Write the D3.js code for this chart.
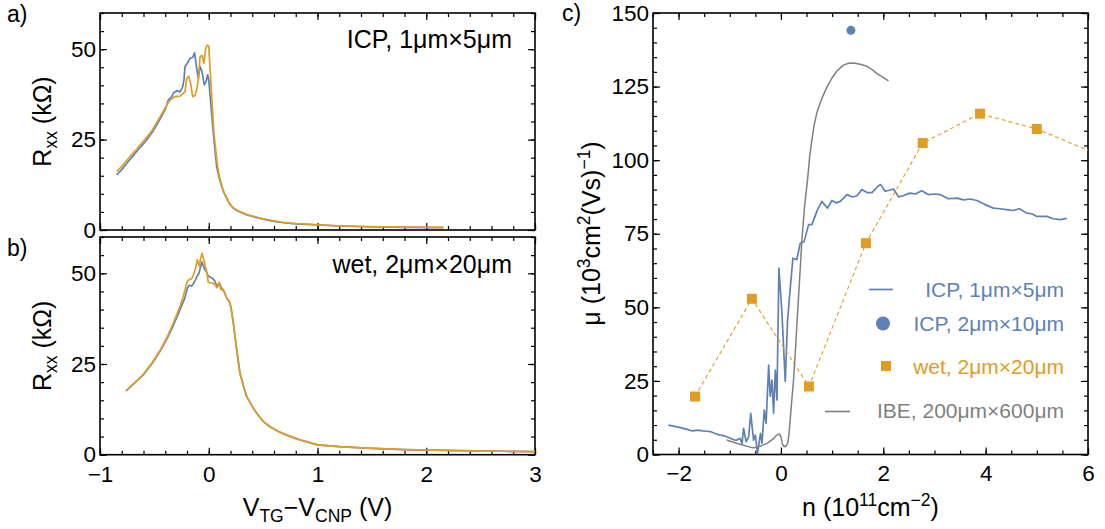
<!DOCTYPE html>
<html><head><meta charset="utf-8">
<script src="https://cdn.jsdelivr.net/npm/d3@7"></script>
<style>body{margin:0;background:#fff}svg{display:block}text{font-family:"Liberation Sans",Arial,sans-serif}</style>
</head><body>
<svg id="c" width="1105" height="529"></svg>
<script>
// ---------- DATA ----------
// Panel a: ICP, 1µm×5µm  (V_TG - V_CNP [V], Rxx [kΩ])
const aBlue = [[-0.847,15.2],[-0.8,16.7],[-0.755,18.4],[-0.71,20.0],[-0.663,21.7],[-0.62,23.2],[-0.571,24.9],[-0.52,27.0],[-0.479,29.0],[-0.44,31.1],[-0.402,33.2],[-0.372,35.9],[-0.341,36.9],[-0.326,37.8],[-0.295,38.5],[-0.264,38.2],[-0.24,39.6],[-0.228,41.5],[-0.218,45.2],[-0.197,46.1],[-0.172,47.5],[-0.148,47.7],[-0.13,49.0],[-0.111,44.7],[-0.096,41.9],[-0.08,45.2],[-0.062,43.8],[-0.041,40.1],[-0.025,41.0],[-0.01,42.9],[0.0,41.5],[0.011,37.8],[0.042,26.7],[0.073,17.5],[0.095,14.5],[0.119,12.0],[0.14,10.3],[0.165,8.8],[0.19,7.3],[0.226,6.0],[0.27,5.2],[0.318,4.6],[0.36,4.1],[0.41,3.7],[0.47,3.2],[0.533,2.8],[0.6,2.4],[0.686,2.0],[0.8,1.7],[0.993,1.4],[1.2,1.1],[1.45,0.9],[1.8,0.75],[2.157,0.65]];
const aOrange = [[-0.847,16.1],[-0.8,17.6],[-0.755,19.2],[-0.71,20.8],[-0.663,22.3],[-0.62,23.9],[-0.571,25.6],[-0.52,27.6],[-0.479,29.7],[-0.44,31.7],[-0.402,33.7],[-0.356,35.9],[-0.31,36.9],[-0.264,37.0],[-0.218,38.2],[-0.203,41.9],[-0.185,42.5],[-0.166,40.5],[-0.148,36.9],[-0.127,37.2],[-0.111,38.7],[-0.096,41.5],[-0.08,47.9],[-0.062,48.3],[-0.044,46.1],[-0.028,50.2],[-0.013,51.1],[0.0,50.8],[0.011,45.2],[0.027,36.9],[0.048,26.7],[0.08,17.8],[0.1,14.5],[0.122,12.0],[0.14,10.4],[0.165,8.9],[0.19,7.4],[0.226,6.1],[0.27,5.3],[0.318,4.7],[0.36,4.2],[0.41,3.8],[0.47,3.3],[0.533,2.9],[0.6,2.5],[0.686,2.1],[0.8,1.8],[0.993,1.45],[1.2,1.15],[1.45,0.95],[1.8,0.8],[2.157,0.7]];
// Panel b: wet, 2µm×20µm
const bBlue = [[-0.761,17.6],[-0.69,19.5],[-0.602,22.0],[-0.52,25.2],[-0.448,28.5],[-0.38,32.2],[-0.326,35.6],[-0.28,38.8],[-0.25,41.0],[-0.22,43.2],[-0.197,45.8],[-0.18,46.7],[-0.157,46.5],[-0.14,47.2],[-0.12,48.3],[-0.105,49.3],[-0.09,50.0],[-0.075,51.8],[-0.062,53.1],[-0.05,52.0],[-0.035,51.0],[-0.02,50.3],[-0.004,49.2],[0.015,48.9],[0.035,48.6],[0.057,47.8],[0.075,46.5],[0.097,47.3],[0.12,45.8],[0.14,45.0],[0.165,43.2],[0.189,42.3],[0.205,40.5],[0.226,36.3],[0.257,28.9],[0.287,22.5],[0.32,18.8],[0.349,16.0],[0.4,13.3],[0.441,11.4],[0.5,9.2],[0.563,7.7],[0.64,6.4],[0.717,5.4],[0.78,4.7],[0.839,4.1],[0.92,3.4],[1.0,2.7],[1.2,2.2],[1.45,1.8],[1.8,1.4],[2.31,1.1],[2.7,0.95],[3.0,0.85]];
const bOrange = [[-0.761,17.6],[-0.69,19.6],[-0.602,22.1],[-0.52,25.4],[-0.448,28.7],[-0.38,32.6],[-0.326,36.3],[-0.264,40.9],[-0.234,43.7],[-0.197,47.8],[-0.175,48.4],[-0.157,48.5],[-0.136,49.9],[-0.12,51.5],[-0.105,53.8],[-0.095,52.6],[-0.087,52.0],[-0.075,54.0],[-0.062,55.5],[-0.05,54.2],[-0.035,52.4],[-0.02,50.5],[-0.004,47.5],[0.015,47.4],[0.035,47.3],[0.057,46.9],[0.075,46.0],[0.085,46.4],[0.097,47.5],[0.11,45.5],[0.13,45.7],[0.15,44.5],[0.165,43.2],[0.189,42.3],[0.205,40.5],[0.226,36.3],[0.257,28.9],[0.287,22.5],[0.32,18.8],[0.349,16.0],[0.4,13.3],[0.441,11.4],[0.5,9.2],[0.563,7.7],[0.64,6.4],[0.717,5.4],[0.78,4.7],[0.839,4.1],[0.92,3.4],[1.0,2.7],[1.2,2.2],[1.45,1.8],[1.8,1.4],[2.31,1.1],[2.7,0.95],[3.0,0.85]];
// Panel c: mobility vs density  (n [1e11 cm^-2], µ [1e3 cm²/Vs])
const cICP1x5 = [[-2.2,10.0],[-2.0,9.3],[-1.85,8.6],[-1.73,8.0],[-1.62,8.3],[-1.53,8.0],[-1.45,7.9],[-1.38,7.8],[-1.3,7.2],[-1.19,6.6],[-1.1,6.3],[-0.99,5.5],[-0.92,5.0],[-0.86,4.9],[-0.8,5.5],[-0.76,3.8],[-0.73,8.9],[-0.68,4.4],[-0.63,6.0],[-0.59,14.0],[-0.535,4.9],[-0.5,6.6],[-0.457,0.4],[-0.4,7.2],[-0.37,3.8],[-0.326,15.1],[-0.29,10.6],[-0.24,30.4],[-0.21,19.7],[-0.176,25.3],[-0.144,14.0],[-0.11,28.7],[-0.078,18.5],[-0.04,63.3],[0.02,48.0],[0.084,24.8],[0.13,45.7],[0.17,54.2],[0.234,66.7],[0.31,66.2],[0.377,71.8],[0.455,72.4],[0.54,78.1],[0.605,78.1],[0.715,83.2],[0.80,86.0],[0.91,83.7],[0.995,86.3],[1.08,85.5],[1.16,86.0],[1.29,88.3],[1.4,87.5],[1.485,87.9],[1.58,90.0],[1.68,89.0],[1.78,89.0],[1.906,91.3],[1.95,91.7],[2.03,89.5],[2.10,89.7],[2.2,90.2],[2.30,87.5],[2.4,88.0],[2.525,88.8],[2.63,88.5],[2.75,89.6],[2.88,88.3],[3.0,88.5],[3.11,88.3],[3.27,86.9],[3.44,87.1],[3.57,86.5],[3.70,86.8],[3.83,86.3],[3.99,84.9],[4.15,83.7],[4.28,83.5],[4.41,83.2],[4.54,82.9],[4.66,83.5],[4.80,82.0],[4.9,81.8],[5.0,80.9],[5.195,80.9],[5.32,80.1],[5.455,79.8],[5.585,80.2]];
const cICP2x10 = [[1.367,144.1]];
const cWetN  = [-1.68,-0.567,0.547,1.66,2.77,3.89,5.0,6.12];
const cWetMu = [19.7,52.9,23.1,71.8,105.8,115.8,110.6,102.5];
const cIBE = [[-1.06,4.9],[-0.9,4.0],[-0.75,3.2],[-0.6,2.5],[-0.535,2.3],[-0.45,2.5],[-0.35,3.2],[-0.27,3.8],[-0.15,5.3],[-0.08,6.6],[-0.03,7.0],[0.0,6.0],[0.03,3.5],[0.065,2.65],[0.1,2.9],[0.13,3.8],[0.155,6.5],[0.18,11.7],[0.21,18],[0.246,25.3],[0.285,36],[0.325,48],[0.37,61],[0.41,73],[0.46,84],[0.52,93.4],[0.56,101],[0.605,107],[0.65,112],[0.70,116],[0.8,121],[0.9,124.9],[1.0,128],[1.09,130.2],[1.22,132.3],[1.32,132.9],[1.42,133],[1.55,132.6],[1.68,131.9],[1.78,130.8],[1.875,129.4],[1.99,128.2],[2.10,126.9]];
const legendLabels = ["ICP, 1μm×5μm","ICP, 2μm×10μm","wet, 2μm×20μm","IBE, 200μm×600μm"];
const xTicksAB = [-1,0,1,2,3];
const yTicksAB = [0,25,50];
const xTicksC = [-2,0,2,4,6];
const yTicksC = [0,25,50,75,100,125,150];

// ---------- STYLE ----------
const BLUE="#5e81b5", ORANGE="#e19c24", GRAY="#7f7f7f";
const TICKF=22.5, LABF=25;
const svg = d3.select("#c");
const fmt = d => (d<0 ? "\u2212"+Math.abs(d) : ""+d);

const xAB = d3.scaleLinear([-1,3],[100,535]);
const yA = d3.scaleLinear([0,60],[230,13]);
const yB = d3.scaleLinear([0,60],[454.7,237]);
const xC = d3.scaleLinear([-2.5,6],[653,1088]);
const yC = d3.scaleLinear([0,150],[454.5,13]);

function range(a,b,s){const r=[];for(let v=a;v<=b+1e-9;v+=s)r.push(+v.toFixed(6));return r;}

function frame(x,y,xMaj,xMin,yMaj,yMin,xLab,yLab,id){
  const [x0,x1]=x.range(), [y0,y1]=y.range(); // y0 bottom
  const g=svg.append("g");
  svg.append("defs").append("clipPath").attr("id",id).append("rect")
    .attr("x",x0).attr("y",y1).attr("width",x1-x0).attr("height",y0-y1);
  const MJ=-7, MN=-4;
  g.append("g").attr("transform",`translate(0,${y0})`).call(d3.axisBottom(x).tickValues(xMaj).tickSize(MJ).tickPadding(11).tickFormat(xLab?fmt:()=>""));
  g.append("g").attr("transform",`translate(0,${y0})`).call(d3.axisBottom(x).tickValues(xMin).tickSize(MN).tickFormat(()=>""));
  g.append("g").attr("transform",`translate(0,${y1})`).call(d3.axisTop(x).tickValues(xMaj).tickSize(MJ).tickFormat(()=>""));
  g.append("g").attr("transform",`translate(0,${y1})`).call(d3.axisTop(x).tickValues(xMin).tickSize(MN).tickFormat(()=>""));
  g.append("g").attr("transform",`translate(${x0},0)`).call(d3.axisLeft(y).tickValues(yMaj).tickSize(MJ).tickPadding(4).tickFormat(yLab?fmt:()=>""));
  g.append("g").attr("transform",`translate(${x0},0)`).call(d3.axisLeft(y).tickValues(yMin).tickSize(MN).tickFormat(()=>""));
  g.append("g").attr("transform",`translate(${x1},0)`).call(d3.axisRight(y).tickValues(yMaj).tickSize(MJ).tickFormat(()=>""));
  g.append("g").attr("transform",`translate(${x1},0)`).call(d3.axisRight(y).tickValues(yMin).tickSize(MN).tickFormat(()=>""));
  g.selectAll(".domain").remove();
  g.selectAll("line").attr("stroke","#000").attr("stroke-width",1.2);
  g.selectAll("text").attr("font-size",TICKF).attr("fill","#000").attr("font-family",'"Liberation Sans",Arial,sans-serif');
  g.append("rect").attr("x",x0).attr("y",y1).attr("width",x1-x0).attr("height",y0-y1).attr("fill","none").attr("stroke","#000").attr("stroke-width",1.6);
  return g;
}

function rich(sel, segs, fs){
  let cur=0;
  segs.forEach(s=>{
    const tgt = s[1]==="sup" ? -0.4*fs : s[1]==="sub" ? 0.22*fs : 0;
    sel.append("tspan").attr("dy",tgt-cur).attr("font-size", s[1]? fs*0.7 : fs).text(s[0]);
    cur=tgt;
  });
}

// frames
frame(xAB,yA,xTicksAB,range(-1,3,0.2),yTicksAB,range(0,60,5),false,true,"clipA");
frame(xAB,yB,xTicksAB,range(-1,3,0.2),yTicksAB,range(0,60,5),true,true,"clipB");
frame(xC,yC,xTicksC,range(-2.5,6,0.5),yTicksC,range(0,150,5),true,true,"clipC");

function drawLine(data,x,y,color,clip,w){
  svg.append("path").datum(data).attr("clip-path",`url(#${clip})`)
    .attr("d",d3.line().x(d=>x(d[0])).y(d=>y(d[1])))
    .attr("fill","none").attr("stroke",color).attr("stroke-width",w||1.7).attr("stroke-linejoin","round");
}
drawLine(aBlue,xAB,yA,BLUE,"clipA");
drawLine(aOrange,xAB,yA,ORANGE,"clipA");
drawLine(bBlue,xAB,yB,BLUE,"clipB");
drawLine(bOrange,xAB,yB,ORANGE,"clipB");

// panel c
drawLine(cICP1x5,xC,yC,BLUE,"clipC",1.7);
const wet = cWetN.map((n,i)=>[n,cWetMu[i]]);
svg.append("path").datum(wet).attr("clip-path","url(#clipC)")
  .attr("d",d3.line().x(d=>xC(d[0])).y(d=>yC(d[1])))
  .attr("fill","none").attr("stroke",ORANGE).attr("stroke-width",1.1).attr("stroke-dasharray","4,3");
svg.append("g").attr("clip-path","url(#clipC)").selectAll("rect").data(wet).join("rect")
  .attr("x",d=>xC(d[0])-5).attr("y",d=>yC(d[1])-5).attr("width",10).attr("height",10).attr("fill",ORANGE);
drawLine(cIBE,xC,yC,GRAY,"clipC",1.5);
svg.append("g").selectAll("circle").data(cICP2x10).join("circle")
  .attr("cx",d=>xC(d[0])).attr("cy",d=>yC(d[1])).attr("r",4.5).attr("fill",BLUE);

// legend
const LX=1064;
const lg=svg.append("g").attr("font-size",21).attr("text-anchor","end");
const rows=[{y:297,c:BLUE},{y:331,c:BLUE},{y:374,c:ORANGE},{y:418,c:GRAY}];
rows.forEach((r,i)=>lg.append("text").attr("x",LX).attr("y",r.y).attr("fill",r.c).text(legendLabels[i]));
lg.append("line").attr("x1",869).attr("x2",893).attr("y1",289.5).attr("y2",289.5).attr("stroke",BLUE).attr("stroke-width",1.7);
lg.append("circle").attr("cx",883).attr("cy",323.5).attr("r",7).attr("fill",BLUE);
lg.append("rect").attr("x",881).attr("y",361).attr("width",10).attr("height",10).attr("fill",ORANGE);
lg.append("line").attr("x1",825).attr("x2",850).attr("y1",411.5).attr("y2",411.5).attr("stroke",GRAY).attr("stroke-width",1.6);

// annotations
svg.append("text").attr("x",512).attr("y",48).attr("text-anchor","end").attr("font-size",25).text("ICP, 1μm×5μm");
svg.append("text").attr("x",512).attr("y",273).attr("text-anchor","end").attr("font-size",25).text("wet, 2μm×20μm");

// panel labels
svg.append("text").attr("x",7).attr("y",22).attr("font-size",23).text("a)");
svg.append("text").attr("x",7).attr("y",256).attr("font-size",23).text("b)");
svg.append("text").attr("x",562).attr("y",21).attr("font-size",23).text("c)");

// axis labels
function ylabel(x,cy,segs){
  const t=svg.append("text").attr("transform",`translate(${x},${cy}) rotate(-90)`).attr("text-anchor","middle").attr("font-size",LABF);
  rich(t,segs,LABF);
}
ylabel(51,121.5,[["R"],["xx","sub"],[" (kΩ)"]]);
ylabel(51,345.8,[["R"],["xx","sub"],[" (kΩ)"]]);
ylabel(600,233.5,[["μ (10"],["3","sup"],["cm"],["2","sup"],["(Vs)"],["\u22121","sup"],[")"]]);
const xl1=svg.append("text").attr("x",317.5).attr("y",516).attr("text-anchor","middle").attr("font-size",LABF);
rich(xl1,[["V"],["TG","sub"],["\u2212V"],["CNP","sub"],[" (V)"]],LABF);
const xl2=svg.append("text").attr("x",870.5).attr("y",516).attr("text-anchor","middle").attr("font-size",LABF);
rich(xl2,[["n (10"],["11","sup"],["cm"],["\u22122","sup"],[")"]],LABF);
</script>
</body></html>
